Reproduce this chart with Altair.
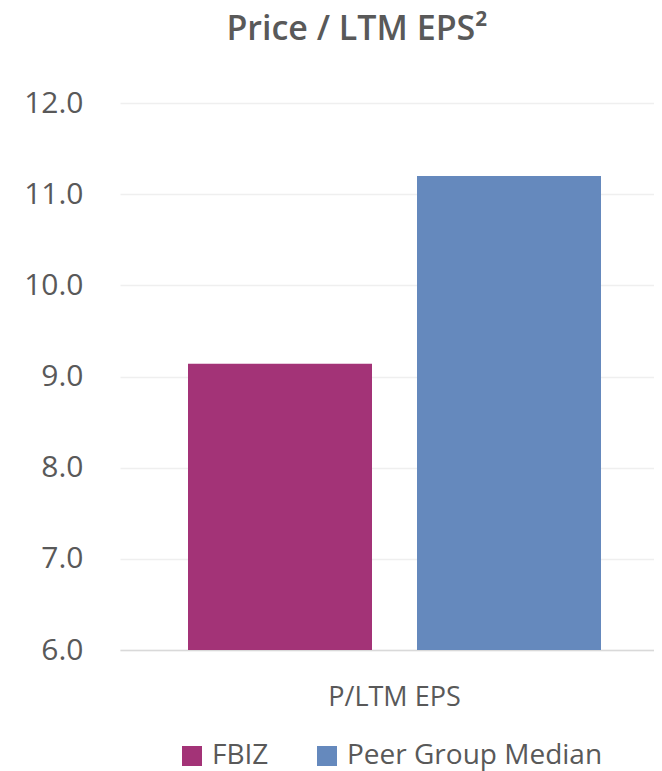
import altair as alt
import pandas as pd

series = ["FBIZ", "Peer Group Median"]
values = [9.14, 11.2]
colors = ["#A33377", "#6589BD"]
y_ticks = [6, 7, 8, 9, 10, 11, 12]
category_label = "P/LTM EPS"
title_text = "Price / LTM EPS²"

df = pd.DataFrame({"series": series, "value": values})

FONT = "Open Sans"
GRAY = "#595959"

chart = (
    alt.Chart(df)
    .mark_bar()
    .encode(
        x=alt.X(
            "series:N",
            sort=series,
            title=category_label,
            scale=alt.Scale(paddingInner=0.1965, paddingOuter=0.2642, align=0.562),
            axis=alt.Axis(
                labels=False,
                ticks=False,
                domain=True,
                domainColor="#D9D9D9",
                domainWidth=1.5,
                titleFontSize=27,
                titleFont=FONT,
                titleFontWeight="normal",
                titleColor=GRAY,
                titlePadding=34,
                titleX=274,
            ),
        ),
        y=alt.Y(
            "value:Q",
            scale=alt.Scale(domain=[6, 12], zero=False, nice=False),
            title=None,
            axis=alt.Axis(
                values=y_ticks,
                format=".1f",
                domain=False,
                ticks=False,
                grid=True,
                gridColor="#EFEFEF",
                gridWidth=1.5,
                labelFontSize=30,
                labelFont=FONT,
                labelColor=GRAY,
                labelPadding=37,
            ),
        ),
        y2=alt.datum(6),
        color=alt.Color(
            "series:N",
            sort=series,
            scale=alt.Scale(domain=series, range=colors),
            legend=alt.Legend(
                title=None,
                orient="none",
                direction="horizontal",
                legendX=58,
                legendY=639,
                symbolType="square",
                symbolSize=400,
                symbolStrokeWidth=0,
                symbolOpacity=1,
                labelFontSize=28,
                labelFont=FONT,
                labelColor=GRAY,
                labelOffset=6,
                labelLimit=0,
                columnPadding=44,
                padding=0,
            ),
        ),
    )
    .properties(
        width=534,
        height=547,
        autosize=alt.AutoSizeParams(type="none"),
        padding={"left": 112, "top": 95, "right": 0, "bottom": 121},
        title=alt.TitleParams(
            text=title_text,
            fontSize=34,
            font=FONT,
            fontWeight=600,
            color=GRAY,
            anchor="middle",
            dx=-30,
            offset=41,
        ),
    )
    .configure_view(stroke=None)
)

chart.save("out.html", embed_options={"renderer": "svg", "actions": False})
